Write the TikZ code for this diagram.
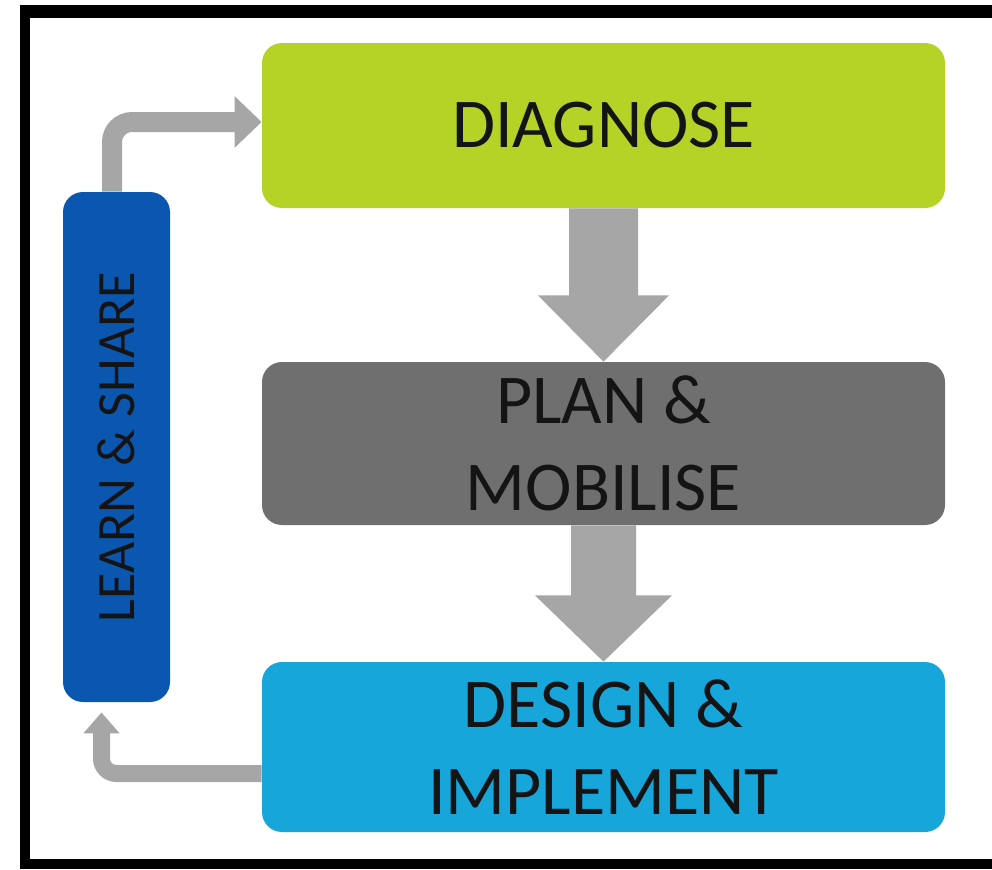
\documentclass[tikz,border=0pt]{standalone}
\usepackage{fontspec}
\setmainfont{Carlito}
\usetikzlibrary{arrows.meta,calc}
\definecolor{dgreen}{HTML}{B5D327}
\definecolor{pgray}{HTML}{6F6F6F}
\definecolor{lblue}{HTML}{0B57B0}
\definecolor{dcyan}{HTML}{17A6DA}
\definecolor{agray}{HTML}{A6A6A6}
\definecolor{txt}{HTML}{141414}
\begin{document}
\begin{tikzpicture}[x=0.5pt,y=-0.5pt,
  stagebox/.style={rounded corners=10pt, minimum width=341.5pt, align=center, text=txt,
    font=\fontsize{35}{43.5}\selectfont, inner sep=0pt},
  flow/.style={fill=agray},
  elbow/.style={draw=agray, line width=10pt, rounded corners=10pt}]
\useasboundingbox (0,0) rectangle (992,869);
\fill[black] (20,5) rectangle (992,869);
\fill[white] (30,18) rectangle (992,859);

\node[stagebox, fill=dgreen, minimum height=82.5pt] (diag) at (603.5,125.5) {DIAGNOSE};
\node[stagebox, fill=pgray, minimum height=81.5pt] (plan) at (603.5,443.5) {PLAN \&\\MOBILISE};
\node[stagebox, fill=dcyan, minimum height=85pt] (design) at (603.5,747) {DESIGN \&\\IMPLEMENT};
\node[fill=lblue, rounded corners=10pt, rotate=90, minimum width=255pt, minimum height=53.5pt,
  inner sep=0pt, text=txt, font=\fontsize{27}{32}\selectfont] (learn) at (116.5,447) {LEARN \& SHARE};

% down arrows
\fill[flow] ($(diag.south)+(-34.5,0)$) -- ($(diag.south)+(34.5,0)$) -- ($(diag.south)+(34.5,87)$)
  -- ($(diag.south)+(65.5,87)$) -- (plan.north) -- ($(diag.south)+(-65.5,87)$)
  -- ($(diag.south)+(-34.5,87)$) -- cycle;
\fill[flow] ($(plan.south)+(-32.5,0)$) -- ($(plan.south)+(32.5,0)$) -- ($(plan.south)+(32.5,70)$)
  -- ($(plan.south)+(68.5,70)$) -- (design.north) -- ($(plan.south)+(-68.5,70)$)
  -- ($(plan.south)+(-32.5,70)$) -- cycle;

% feedback arrows
\draw[elbow, -{Triangle[width=25pt,length=13.5pt]}] ($(learn.east)+(-4.5,0)$) |- ($(diag.west)+(0,-3.5)$);
\coordinate (ltip) at ($(learn.west)+(-15,10)$);
\draw[elbow, line width=8.5pt, rounded corners=7.5pt, -{Triangle[width=17.5pt,length=10.5pt]}]
  ($(design.west)+(0,26.5)$) -| (ltip);
\end{tikzpicture}
\end{document}
